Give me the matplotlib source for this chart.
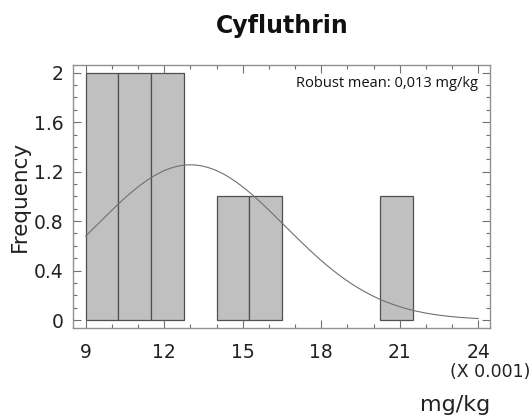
import numpy as np
import matplotlib
matplotlib.use("Agg")
import matplotlib.pyplot as plt
from matplotlib.ticker import MultipleLocator

# Histogram data (x in units of 0.001 mg/kg)
bin_edges = [9.0, 10.25, 11.5, 12.75, 14.0, 15.25, 16.5, 17.75, 19.0, 20.25, 21.5]
frequencies = [2, 2, 2, 0, 1, 1, 0, 0, 0, 1]
x_ticks = [9, 12, 15, 18, 21, 24]
y_ticks = [0, 0.4, 0.8, 1.2, 1.6, 2.0]
y_tick_labels = ["0", "0.4", "0.8", "1.2", "1.6", "2"]

# Fitted normal curve parameters
curve_mean = 13.0
curve_sd = 3.61
curve_peak = 1.255

W, H = 532, 418
fig = plt.figure(figsize=(W / 100, H / 100), dpi=100)
ax = fig.add_axes([72.7 / W, 1 - 327.7 / H, (490 - 72.7) / W, (327.7 - 65) / H])

edges = np.array(bin_edges)
widths = np.diff(edges)
edgecols = ["#505050" if f > 0 else "none" for f in frequencies]
ax.bar(edges[:-1], frequencies, width=widths, align="edge",
       color="#c0c0c0", edgecolor=edgecols, linewidth=0.9)

xs = np.linspace(9, 24, 300)
ys = curve_peak * np.exp(-0.5 * ((xs - curve_mean) / curve_sd) ** 2)
ax.plot(xs, ys, color="#707070", linewidth=0.8)

ax.set_xlim(8.503, 24.447)
ax.set_ylim(-0.062, 2.062)
ax.set_xticks(x_ticks)
ax.set_xticklabels([str(t) for t in x_ticks])
ax.set_yticks(y_ticks)
ax.set_yticklabels(y_tick_labels)
ax.xaxis.set_minor_locator(MultipleLocator(1))
ax.yaxis.set_minor_locator(MultipleLocator(0.1))

for s in ax.spines.values():
    s.set_color("#909090")
    s.set_linewidth(1.0)

ax.tick_params(which="both", direction="in", top=True, right=True,
               color="#707070", width=0.8)
ax.tick_params(which="major", length=6, labelsize=13.5, labelcolor="#222222")
ax.tick_params(which="minor", length=3)
ax.tick_params(axis="x", which="major", pad=11)
ax.tick_params(axis="y", which="major", pad=6.5)

ax.text(478 / W, 1 - 87 / H, "Robust mean: 0,013 mg/kg", transform=fig.transFigure,
        ha="right", va="baseline", fontsize=10.5, family="Open Sans", color="#111111")

fig.text(282 / W, 1 - 33 / H, "Cyfluthrin", ha="center", va="baseline",
         fontsize=17, fontweight="bold", color="#111111")
fig.text(20 / W, 1 - 196 / H, "Frequency", rotation=90, ha="center",
         va="center", fontsize=15.5, color="#222222")
fig.text(490 / W, 1 - 377 / H, "(X 0.001)", ha="center", va="baseline",
         fontsize=12.5, color="#222222")
fig.text(455 / W, 1 - 411 / H, "mg/kg", ha="center", va="baseline",
         fontsize=16, color="#222222")

fig.savefig("out.png", dpi=100)
